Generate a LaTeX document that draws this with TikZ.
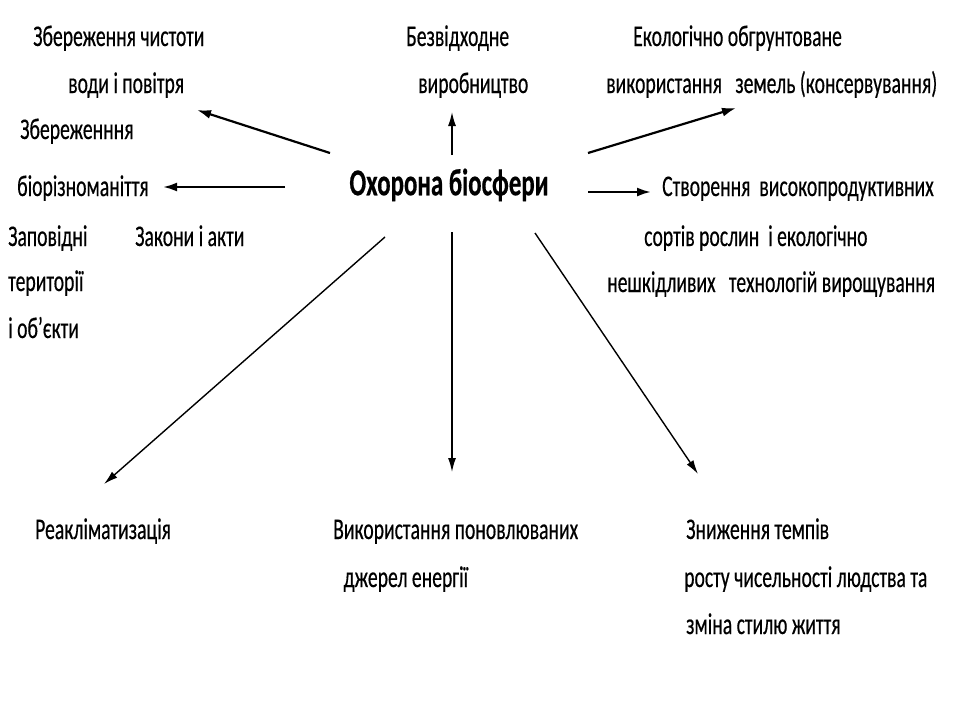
\documentclass[tikz,border=0pt]{standalone}
\usepackage{fontspec}
\setmainfont{Carlito}[FakeStretch=0.655, FakeBold=0.4]
\usepackage{tikz}
\usetikzlibrary{arrows.meta}
\tikzset{
  lbl/.style={anchor=base west, inner sep=0pt, font=\fontsize{30}{36}\selectfont},
  thick arr/.style={line width=2.2pt, -{Latex[length=14pt,width=9pt]}},
  thin arr/.style={line width=1.4pt, -{Latex[length=14pt,width=8pt]}}
}
\begin{document}
\begin{tikzpicture}[x=1pt,y=-1pt]
\useasboundingbox [fill=white] (0,0) rectangle (960,720);
% centre
\node [inner sep=0pt, font=\bfseries\fontsize{38}{44}\selectfont] (centre) at (449,185) {Охорона біосфери};
% upper left
\node [lbl] (water1) at (33,46) {Збереження чистоти};
\node [lbl] (water2) at (68,93) {води і повітря};
\node [lbl] (bio1) at (20,139) {Збереженння};
\node [lbl] (bio2) at (17,196) {біорізноманіття};
\node [lbl] (res1) at (8,246) {Заповідні};
\node [lbl] (res2) at (8,291) {території};
\node [lbl] (res3) at (8,338) {і об’єкти};
\node [lbl] (laws) at (135,246) {Закони і акти};
% top
\node [lbl] (waste1) at (406,46) {Безвідходне};
\node [lbl] (waste2) at (418,93) {виробництво};
% upper right
\node [lbl] (land1) at (633,46) {Екологічно обгрунтоване};
\node [lbl] (land2) at (606,93) {використання\ \ \ земель (консервування)};
\node [lbl] (crop1) at (662,196) {Створення\ \ високопродуктивних};
\node [lbl] (crop2) at (644,246) {сортів рослин\ \ і екологічно};
\node [lbl] (crop3) at (607,292) {нешкідливих\ \ \ технологій вирощування};
% bottom
\node [lbl] (acclim) at (35,539) {Реакліматизація};
\node [lbl] (energy1) at (333,539) {Використання поновлюваних};
\node [lbl] (energy2) at (339,587) {\ джерел енергії};
\node [lbl] (pop1) at (686,539) {Зниження темпів};
\node [lbl] (pop2) at (684,587) {росту чисельності людства та};
\node [lbl] (pop3) at (686,634) {зміна стилю життя};
% arrow ends
\coordinate (aUL) at (330,153);  \coordinate (tUL) at (197,110);
\coordinate (aL)  at (285,187);  \coordinate (tL)  at (163,187);
\coordinate (aU)  at (452,155);  \coordinate (tU)  at (452,112);
\coordinate (aUR) at (588,153);  \coordinate (tUR) at (736,108);
\coordinate (aR)  at (588,192);  \coordinate (tR)  at (651,192);
\coordinate (aDL) at (385,237);  \coordinate (tDL) at (104,484);
\coordinate (aD)  at (452,232);  \coordinate (tD)  at (452,472);
\coordinate (aDR) at (535,233);  \coordinate (tDR) at (698,474);
\draw [thick arr] (aUL) -- (tUL);
\draw [thick arr] (aL) -- (tL);
\draw [thin arr] (aU) -- (tU);
\draw [thick arr] (aUR) -- (tUR);
\draw [thick arr] (aR) -- (tR);
\draw [thin arr] (aDL) -- (tDL);
\draw [thin arr] (aD) -- (tD);
\draw [thin arr] (aDR) -- (tDR);
\end{tikzpicture}
\end{document}
